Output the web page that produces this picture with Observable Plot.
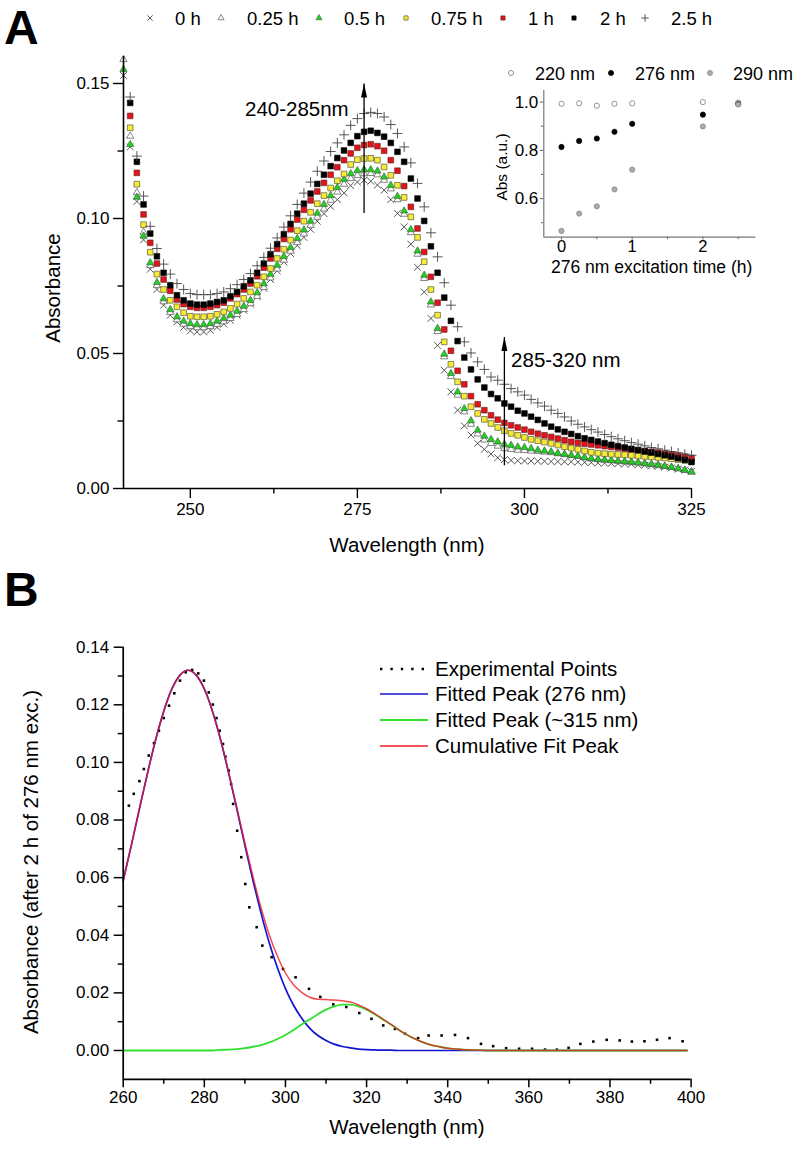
<!DOCTYPE html>
<html><head><meta charset="utf-8">
<script src="https://cdn.jsdelivr.net/npm/d3@7"></script>
<script src="https://cdn.jsdelivr.net/npm/@observablehq/plot@0.6"></script>
<style>
body{margin:0;background:#fff;}
#root{position:relative;width:795px;height:1149px;font-family:"Liberation Sans",Arial,sans-serif;color:#000;overflow:hidden;background:#fff;}
#root svg{overflow:visible;}
</style></head><body><div id="root"></div>
<script>
// ---------------- Panel A data (absorbance vs wavelength, per excitation time) ----------------
const wavelengthA = [240,241,242,243,244,245,246,247,248,249,250,251,252,253,254,255,256,257,258,259,260,261,262,263,264,265,266,267,268,269,270,271,272,273,274,275,276,277,278,279,280,281,282,283,284,285,286,287,288,289,290,291,292,293,294,295,296,297,298,299,300,301,302,303,304,305,306,307,308,309,310,311,312,313,314,315,316,317,318,319,320,321,322,323,324,325];
const abs0h = [0.153,0.1265,0.1063,0.0921,0.0812,0.0737,0.0679,0.0642,0.0617,0.0597,0.0584,0.0580,0.0580,0.0586,0.0597,0.0609,0.0623,0.0642,0.0660,0.0683,0.0710,0.0741,0.0774,0.0806,0.0839,0.0870,0.0900,0.0930,0.0960,0.0990,0.1018,0.1045,0.1070,0.1095,0.1122,0.1135,0.1142,0.1138,0.1124,0.1105,0.1070,0.1019,0.0969,0.0905,0.0819,0.0728,0.0630,0.0530,0.0438,0.0358,0.0290,0.0232,0.0198,0.0167,0.0145,0.0128,0.0114,0.0107,0.0104,0.0103,0.0102,0.0102,0.0101,0.0101,0.0100,0.0100,0.0099,0.0099,0.0098,0.0097,0.0096,0.0095,0.0094,0.0093,0.0092,0.0091,0.0090,0.0088,0.0086,0.0084,0.0082,0.0079,0.0076,0.0072,0.0068,0.0063];
const abs025h = [0.1589,0.1305,0.1096,0.0949,0.0826,0.0752,0.0692,0.0652,0.0625,0.0609,0.0600,0.0596,0.0596,0.0600,0.0608,0.0618,0.0630,0.0645,0.0663,0.0685,0.0712,0.0745,0.0780,0.0813,0.0846,0.0879,0.0911,0.0943,0.0975,0.1005,0.1036,0.1068,0.1098,0.1127,0.1148,0.1160,0.1166,0.1167,0.1162,0.1142,0.1110,0.1070,0.1016,0.0948,0.0868,0.0778,0.0680,0.0582,0.0488,0.0415,0.0346,0.0284,0.0238,0.0202,0.0180,0.0167,0.0157,0.0148,0.0145,0.0142,0.0141,0.0139,0.0137,0.0135,0.0133,0.0129,0.0126,0.0122,0.0119,0.0114,0.0110,0.0107,0.0105,0.0103,0.0101,0.0099,0.0097,0.0095,0.0092,0.0089,0.0086,0.0082,0.0078,0.0073,0.0067,0.0061];
const abs05h = [0.1552,0.1274,0.1079,0.0935,0.0836,0.0763,0.0703,0.0663,0.0636,0.0620,0.0611,0.0607,0.0607,0.0611,0.0620,0.0630,0.0642,0.0657,0.0675,0.0697,0.0725,0.0759,0.0794,0.0827,0.0860,0.0893,0.0926,0.0958,0.0990,0.1020,0.1052,0.1085,0.1115,0.1145,0.1166,0.1177,0.1181,0.1181,0.1176,0.1154,0.1123,0.1082,0.1028,0.0959,0.0880,0.0790,0.0691,0.0593,0.0498,0.0426,0.0358,0.0296,0.0251,0.0216,0.0194,0.0182,0.0173,0.0164,0.0160,0.0154,0.0152,0.0148,0.0142,0.0139,0.0136,0.0130,0.0127,0.0123,0.0120,0.0115,0.0111,0.0108,0.0106,0.0104,0.0102,0.0100,0.0098,0.0096,0.0093,0.0090,0.0087,0.0083,0.0079,0.0074,0.0068,0.0062];
const abs075h = [0.166,0.1336,0.1127,0.0977,0.0875,0.0794,0.0737,0.0697,0.0673,0.0651,0.0638,0.0636,0.0636,0.0638,0.0645,0.0654,0.0667,0.0683,0.0704,0.0728,0.0753,0.0784,0.0815,0.0852,0.0886,0.0920,0.0955,0.0990,0.1023,0.1055,0.1085,0.1113,0.1140,0.1165,0.1200,0.1218,0.1222,0.1223,0.1216,0.1191,0.1160,0.1123,0.1078,0.1006,0.0930,0.0840,0.0737,0.0642,0.0543,0.0460,0.0395,0.0342,0.0303,0.0278,0.0256,0.0241,0.0226,0.0214,0.0204,0.0197,0.0189,0.0182,0.0177,0.0172,0.0167,0.0161,0.0155,0.0150,0.0145,0.0139,0.0134,0.0131,0.0129,0.0127,0.0126,0.0125,0.0123,0.0121,0.0119,0.0117,0.0115,0.0113,0.0110,0.0107,0.0104,0.0100];
const abs1h = [0.172,0.1380,0.1169,0.1015,0.0910,0.0833,0.0774,0.0732,0.0700,0.0683,0.0673,0.0669,0.0669,0.0673,0.0679,0.0688,0.0704,0.0720,0.0737,0.0759,0.0786,0.0818,0.0852,0.0888,0.0924,0.0960,0.0996,0.1032,0.1067,0.1100,0.1132,0.1162,0.1190,0.1216,0.1241,0.1262,0.1272,0.1275,0.1268,0.1251,0.1216,0.1177,0.1120,0.1043,0.0963,0.0876,0.0784,0.0688,0.0589,0.0510,0.0436,0.0386,0.0342,0.0312,0.0290,0.0271,0.0255,0.0243,0.0234,0.0226,0.0218,0.0210,0.0203,0.0197,0.0191,0.0185,0.0179,0.0173,0.0169,0.0166,0.0163,0.0160,0.0157,0.0154,0.0151,0.0148,0.0145,0.0142,0.0139,0.0136,0.0133,0.0130,0.0126,0.0122,0.0118,0.0113];
const abs2h = [0.178,0.1428,0.1210,0.1052,0.0944,0.0860,0.0799,0.0753,0.0716,0.0697,0.0685,0.0681,0.0681,0.0685,0.0691,0.0697,0.0712,0.0728,0.0749,0.0771,0.0799,0.0833,0.0868,0.0905,0.0942,0.0980,0.1018,0.1055,0.1092,0.1128,0.1162,0.1194,0.1224,0.1252,0.1280,0.1305,0.1321,0.1325,0.1317,0.1303,0.1280,0.1247,0.1210,0.1148,0.1074,0.0991,0.0897,0.0799,0.0707,0.0621,0.0546,0.0485,0.0441,0.0404,0.0374,0.0350,0.0334,0.0315,0.0303,0.0288,0.0278,0.0266,0.0254,0.0241,0.0229,0.0219,0.0210,0.0202,0.0194,0.0186,0.0180,0.0174,0.0168,0.0162,0.0157,0.0152,0.0147,0.0142,0.0137,0.0133,0.0128,0.0123,0.0118,0.0112,0.0106,0.0098];
const abs25h = [0.19,0.145,0.1231,0.1083,0.0971,0.0889,0.0831,0.0794,0.0759,0.0737,0.0722,0.0718,0.0718,0.0718,0.0722,0.0728,0.0740,0.0755,0.0774,0.0796,0.0825,0.0856,0.0890,0.0928,0.0968,0.1010,0.1052,0.1094,0.1135,0.1175,0.1213,0.1248,0.1280,0.1310,0.1345,0.1370,0.1389,0.1393,0.1389,0.1376,0.1348,0.1315,0.1265,0.1206,0.1130,0.1043,0.0947,0.0858,0.0762,0.0679,0.0599,0.0543,0.0502,0.0469,0.0441,0.0413,0.0401,0.0386,0.0370,0.0358,0.0346,0.0330,0.0317,0.0305,0.0290,0.0278,0.0265,0.0250,0.0238,0.0228,0.0218,0.0209,0.0200,0.0192,0.0184,0.0177,0.0170,0.0164,0.0158,0.0152,0.0147,0.0142,0.0137,0.0132,0.0127,0.0123];
const seriesLabelsA = ["0 h","0.25 h","0.5 h","0.75 h","1 h","2 h","2.5 h"];
const xTicksA = [250,275,300,325];
const xMinorA = [262.5,287.5,312.5];
const yTicksA = [0,0.05,0.10,0.15];
const yMinorA = [0.025,0.075,0.125];
const arrowsLeft = [{x:276, y1:0.102, y2:0.150, lx:273.7, ly:0.1405, label:"240-285nm"}];
const arrowsRight = [{x:297, y1:0.0086, y2:0.0561, lx:298.0, ly:0.0475, label:"285-320 nm"}];

// ---------------- Inset data ----------------
const insetTime = [0,0.25,0.5,0.75,1,2,2.5];
const abs220 = [0.993,0.995,0.985,0.993,0.995,1.000,0.998];
const abs276 = [0.814,0.839,0.849,0.877,0.910,0.948,0.992];
const abs290 = [0.466,0.538,0.568,0.638,0.720,0.899,0.990];
const insetLabels = ["220 nm","276 nm","290 nm"];

// ---------------- Panel B data ----------------
const fitWl = [260,262,264,266,268,270,272,274,276,278,280,282,284,286,288,290,292,294,296,298,300,302,304,306,308,310,312,314,316,318,320,322,324,326,328,330,332,334,336,338,340,342,344,346,348,350,360,370,380,390,399];
const fitPeak276 = [0.0590,0.0712,0.0839,0.0963,0.1079,0.1178,0.1255,0.1303,0.1320,0.1303,0.1255,0.1178,0.1079,0.0963,0.0839,0.0712,0.0590,0.0476,0.0374,0.0288,0.0215,0.0157,0.0112,0.0077,0.0052,0.0035,0.0022,0.0014,0.0009,0.0005,0.0003,0.0002,0.0001,0.0001,0,0,0,0,0,0,0,0,0,0,0,0,0,0,0,0,0];
const fitPeak315 = [0,0,0,0,0,0,0,0,0,0,0,0,0.0002,0.0003,0.0005,0.0008,0.0013,0.0019,0.0028,0.0040,0.0054,0.0071,0.0090,0.0108,0.0126,0.0142,0.0153,0.0159,0.0159,0.0153,0.0142,0.0126,0.0108,0.0090,0.0071,0.0054,0.0040,0.0028,0.0019,0.0013,0.0008,0.0005,0.0003,0.0002,0.0001,0,0,0,0,0,0];
const fitCumulative = [0.0590,0.0712,0.0839,0.0963,0.1079,0.1178,0.1255,0.1303,0.1320,0.1303,0.1255,0.1178,0.1081,0.0966,0.0844,0.0720,0.0603,0.0495,0.0402,0.0328,0.0269,0.0228,0.0202,0.0185,0.0178,0.0177,0.0175,0.0173,0.0168,0.0158,0.0145,0.0128,0.0109,0.0091,0.0071,0.0054,0.0040,0.0028,0.0019,0.0013,0.0008,0.0005,0.0003,0.0002,0.0001,0,0,0,0,0,0];
const expWl = [261.4,262.6,264.0,265.1,266.3,267.6,268.8,270.0,271.3,272.6,274.0,275.4,277.0,278.5,279.9,281.1,282.1,283.0,283.8,284.6,285.2,286.0,286.6,287.1,288.1,289.1,290.1,291.1,292.9,294.3,296.6,299.4,302.5,305.8,308.6,311.8,315.0,318.2,321.2,324.1,327.0,329.5,332.7,335.3,338.5,341.8,345.0,348.2,351.2,354.4,357.6,360.8,364.0,366.9,369.8,372.7,375.9,379.2,382.4,385.4,388.5,391.6,394.7,397.9];
const expAbs = [0.0850,0.0891,0.0935,0.0977,0.1024,0.1067,0.1110,0.1154,0.1197,0.1240,0.1284,0.1313,0.1321,0.1309,0.1284,0.1243,0.1201,0.1154,0.1110,0.1064,0.1020,0.0972,0.0925,0.0856,0.0763,0.0671,0.0578,0.0497,0.0428,0.0364,0.0324,0.0283,0.0254,0.0214,0.0186,0.0160,0.0151,0.0130,0.0110,0.0087,0.0075,0.0058,0.0043,0.0052,0.0052,0.0054,0.0043,0.0023,0.0015,0.0008,0.0006,0.0006,0.0003,0.0003,0.0009,0.0023,0.0031,0.0037,0.0035,0.0031,0.0032,0.0037,0.0043,0.0032];
const legendLabelsB = ["Experimental Points","Fitted Peak (276 nm)","Fitted Peak (~315 nm)","Cumulative Fit Peak"];
const xTicksB = [260,280,300,320,340,360,380,400];
const xMinorB = [270,290,310,330,350,370,390];
const yTicksB = [0,0.02,0.04,0.06,0.08,0.10,0.12,0.14];
const yMinorB = [0.01,0.03,0.05,0.07,0.09,0.11,0.13];

// ---------------- helpers ----------------
const root = document.getElementById("root");
const FONT = '"Liberation Sans", Arial, sans-serif';
function text(str, x, y, {size=17, weight="normal", anchor="start", rotate=0, lh=1} = {}) {
  const d = document.createElement("div");
  d.textContent = str;
  const tx = anchor === "start" ? "0" : anchor === "middle" ? "-50%" : "-100%";
  d.style.cssText = `position:absolute;left:${x}px;top:${y}px;font-size:${size}px;font-weight:${weight};line-height:${lh};white-space:nowrap;`;
  d.style.transform = rotate ? `translate(-50%,-50%) rotate(${rotate}deg)` : `translate(${tx},-50%)`;
  root.appendChild(d);
}
function place(node, left, top) {
  const w = document.createElement("div");
  w.style.cssText = `position:absolute;left:${left}px;top:${top}px;`;
  w.appendChild(node);
  root.appendChild(w);
}
const styleBase = {fontFamily: FONT, fontSize: "17px", background: "transparent", overflow: "visible", color: "#000"};
const arrowHead = {draw(ctx) { ctx.moveTo(0, 0); ctx.lineTo(-3, 14); ctx.lineTo(3, 14); ctx.closePath(); }};

// ---------------- Panel A ----------------
const yMaxA = 0.16;
const seriesA = [
  {vals: abs0h, symbol: "times", fill: "none", stroke: "#444", r: 3.2, sw: 0.9},
  {vals: abs025h, symbol: "triangle", fill: "#fff", stroke: "#666", r: 2.7, sw: 0.8},
  {vals: abs05h, symbol: "triangle", fill: "#22cf22", stroke: "#3d5a3d", r: 2.7, sw: 0.6},
  {vals: abs075h, symbol: "square", fill: "#f6ea35", stroke: "#5c5c3a", r: 3.2, sw: 0.7},
  {vals: abs1h, symbol: "square", fill: "#e0141a", stroke: "#5a2020", r: 3.2, sw: 0.6},
  {vals: abs2h, symbol: "square", fill: "#000", stroke: "#000", r: 3.2, sw: 0.6},
  {vals: abs25h, symbol: "plus", fill: "none", stroke: "#444", r: 3.3, sw: 0.9}
];
const dotsA = seriesA.map(s => {
  const data = wavelengthA.map((w, i) => ({wl: w, v: s.vals[i]})).filter(d => d.v <= yMaxA);
  return Plot.dot(data, {x: "wl", y: "v", symbol: s.symbol, r: s.r, fill: s.fill, stroke: s.stroke, strokeWidth: s.sw});
});
const plotA = Plot.plot({
  width: 795, height: 570,
  marginLeft: 123, marginRight: 104, marginTop: 56, marginBottom: 82,
  x: {domain: [240, 325]},
  y: {domain: [0, yMaxA]},
  style: styleBase,
  marks: [
    Plot.axisX({ticks: xTicksA, tickSize: 10, tickPadding: 4, strokeWidth: 1.4, tickFormat: d => String(d), label: null}),
    Plot.axisX({ticks: xMinorA, tickSize: 5.5, strokeWidth: 1.4, tickFormat: () => "", label: null}),
    Plot.axisY({ticks: yTicksA, tickSize: 10, tickPadding: 4, strokeWidth: 1.4, tickFormat: d3.format(".2f"), label: null}),
    Plot.axisY({ticks: yMinorA, tickSize: 5.5, strokeWidth: 1.4, tickFormat: () => "", label: null}),
    ...dotsA,
    Plot.ruleX([240], {stroke: "#000", strokeWidth: 1.6}),
    Plot.ruleY([0], {stroke: "#000", strokeWidth: 1.6}),
    Plot.link(arrowsLeft, {x1: "x", x2: "x", y1: "y1", y2: "y2", stroke: "#000", strokeWidth: 1.3}),
    Plot.dot(arrowsLeft, {x: "x", y: "y2", symbol: arrowHead, fill: "#000", stroke: "none"}),
    Plot.text(arrowsLeft, {x: "lx", y: "ly", text: "label", textAnchor: "end", fontSize: 20.5}),
    Plot.link(arrowsRight, {x1: "x", x2: "x", y1: "y1", y2: "y2", stroke: "#000", strokeWidth: 1.3}),
    Plot.dot(arrowsRight, {x: "x", y: "y2", symbol: arrowHead, fill: "#000", stroke: "none"}),
    Plot.text(arrowsRight, {x: "lx", y: "ly", text: "label", textAnchor: "start", fontSize: 20.5})
  ]
});
place(plotA, 0, 0);

// ---------------- Inset ----------------
const insetSeries = [
  {vals: abs220, fill: "#fff", stroke: "#7a7a7a"},
  {vals: abs276, fill: "#000", stroke: "#000"},
  {vals: abs290, fill: "#ababab", stroke: "#8a8a8a"}
];
const inset = Plot.plot({
  width: 300, height: 200,
  marginLeft: 63.3, marginRight: 24.6, marginTop: 10, marginBottom: 43.3,
  x: {domain: [-0.25, 2.75]},
  y: {domain: [0.44, 1.048]},
  style: styleBase,
  marks: [
    Plot.axisX({ticks: [0, 1, 2], tickSize: 3, tickPadding: 0, stroke: "#666", fontSize: 16.5, tickFormat: d => String(d), label: null}),
    Plot.axisX({ticks: [0.5, 1.5, 2.5], tickSize: 2.5, stroke: "#666", tickFormat: () => "", label: null}),
    Plot.axisY({ticks: [0.6, 0.8, 1.0], tickSize: 3.5, tickPadding: 2, stroke: "#666", tickFormat: d3.format(".1f"), label: null}),
    Plot.axisY({ticks: [0.5, 0.7, 0.9], tickSize: 2.5, stroke: "#666", tickFormat: () => "", label: null}),
    Plot.ruleX([-0.25], {stroke: "#777", strokeWidth: 1.2}),
    Plot.ruleY([0.44], {stroke: "#777", strokeWidth: 1.2}),
    ...insetSeries.map(s => Plot.dot(insetTime.map((t, i) => ({t, v: s.vals[i]})), {x: "t", y: "v", r: 2.6, fill: s.fill, stroke: s.stroke, strokeWidth: 0.8}))
  ]
});
place(inset, 480, 80);

// ---------------- Panel B ----------------
const fitRows = fitWl.map((w, i) => ({wl: w, p276: fitPeak276[i], p315: fitPeak315[i], cum: fitCumulative[i]}));
const expRows = expWl.map((w, i) => ({wl: w, v: expAbs[i]}));
const plotB = Plot.plot({
  width: 795, height: 549,
  marginLeft: 122.7, marginRight: 104.4, marginTop: 46.7, marginBottom: 70.2,
  x: {domain: [260, 400]},
  y: {domain: [-0.01, 0.14]},
  style: styleBase,
  marks: [
    Plot.axisX({ticks: xTicksB, tickSize: 8.5, tickPadding: 3, strokeWidth: 1.5, tickFormat: d => String(d), label: null}),
    Plot.axisX({ticks: xMinorB, tickSize: 5, strokeWidth: 1.5, tickFormat: () => "", label: null}),
    Plot.axisY({ticks: yTicksB, tickSize: 9, tickPadding: 5, strokeWidth: 1.5, tickFormat: d3.format(".2f"), label: null}),
    Plot.axisY({ticks: yMinorB, tickSize: 5, strokeWidth: 1.5, tickFormat: () => "", label: null}),
    Plot.dot(expRows, {x: "wl", y: "v", symbol: "square", r: 1.45, fill: "#000", stroke: "none"}),
    Plot.line(fitRows, {x: "wl", y: "p276", stroke: "#1414d2", strokeWidth: 1.7, curve: "monotone-x"}),
    Plot.line(fitRows, {x: "wl", y: "p315", stroke: "#2fe02f", strokeWidth: 1.8, curve: "monotone-x"}),
    Plot.line(fitRows, {x: "wl", y: "cum", stroke: "#ee1c24", strokeWidth: 1.5, strokeOpacity: 0.8, curve: "monotone-x"}),
    Plot.ruleX([260], {stroke: "#000", strokeWidth: 1.7}),
    Plot.ruleY([-0.01], {stroke: "#000", strokeWidth: 1.7})
  ]
});
place(plotB, 0, 600);

// ---------------- Texts ----------------
text("A", 4, 27.5, {size: 48, weight: "bold"});
text("B", 4, 590, {size: 48, weight: "bold"});
text("Absorbance", 53, 288, {size: 20.5, rotate: -90});
text("Wavelength (nm)", 407, 545, {size: 20.5, anchor: "middle"});
text("Absorbance (after 2 h of 276 nm exc.)", 31, 862, {size: 20.5, rotate: -90});
text("Wavelength (nm)", 407, 1127, {size: 20.5, anchor: "middle"});
text("Abs (a.u.)", 502, 167, {size: 15.5, rotate: -90});
text("276 nm excitation time (h)", 551, 267.5, {size: 17.5});

// ---------------- Top legend (panel A) ----------------
function symSvg(type, fill, stroke, size, sw) {
  const ns = "http://www.w3.org/2000/svg";
  const svg = document.createElementNS(ns, "svg");
  svg.setAttribute("width", 14); svg.setAttribute("height", 14);
  svg.style.cssText = "position:absolute;overflow:visible;";
  const p = document.createElementNS(ns, "path");
  p.setAttribute("d", d3.symbol(type, size)());
  p.setAttribute("transform", "translate(7,7)");
  p.setAttribute("fill", fill); p.setAttribute("stroke", stroke); p.setAttribute("stroke-width", sw);
  svg.appendChild(p);
  return svg;
}
const legendTypesA = [d3.symbolTimes, d3.symbolTriangle, d3.symbolTriangle, d3.symbolSquare, d3.symbolSquare, d3.symbolSquare, d3.symbolPlus];
const legendSymX = [149.5, 221, 319, 406, 502.5, 574, 645];
const legendTextX = [175, 247, 344, 431, 528, 600, 671];
seriesLabelsA.forEach((lab, i) => {
  const s = seriesA[i];
  const sz = legendTypesA[i] === d3.symbolTriangle ? 16 : legendTypesA[i] === d3.symbolSquare ? 18 : 20;
  const svg = symSvg(legendTypesA[i], s.fill, s.stroke, sz, s.sw);
  svg.style.left = (legendSymX[i] - 7) + "px"; svg.style.top = (18 - 7) + "px";
  root.appendChild(svg);
  text(lab, legendTextX[i], 19, {size: 18.5});
});

// ---------------- Inset legend ----------------
const insetSymX = [511, 611, 710];
const insetTextX = [535, 635, 733];
insetLabels.forEach((lab, i) => {
  const s = insetSeries[i];
  const svg = symSvg(d3.symbolCircle, s.fill, s.stroke, 20, 0.8);
  svg.style.left = (insetSymX[i] - 7) + "px"; svg.style.top = (73 - 7) + "px";
  root.appendChild(svg);
  text(lab, insetTextX[i], 74, {size: 18});
});

// ---------------- Panel B legend ----------------
const legendRowY = [669.3, 694.3, 720, 745.7];
const legendStyleB = [
  {stroke: "#000", dash: "2.4,8", sw: 2.4},
  {stroke: "#1414d2", dash: null, sw: 1.7},
  {stroke: "#2fe02f", dash: null, sw: 1.8},
  {stroke: "#ee1c24", dash: null, sw: 1.5}
];
legendLabelsB.forEach((lab, i) => {
  const ns = "http://www.w3.org/2000/svg";
  const svg = document.createElementNS(ns, "svg");
  svg.setAttribute("width", 50); svg.setAttribute("height", 10);
  svg.style.cssText = `position:absolute;left:379px;top:${legendRowY[i] - 5}px;overflow:visible;`;
  const l = document.createElementNS(ns, "line");
  l.setAttribute("x1", 1); l.setAttribute("x2", 49); l.setAttribute("y1", 5); l.setAttribute("y2", 5);
  l.setAttribute("stroke", legendStyleB[i].stroke); l.setAttribute("stroke-width", legendStyleB[i].sw);
  if (legendStyleB[i].dash) l.setAttribute("stroke-dasharray", legendStyleB[i].dash);
  svg.appendChild(l);
  root.appendChild(svg);
  text(lab, 435, legendRowY[i], {size: 20.5});
});
</script></body></html>
